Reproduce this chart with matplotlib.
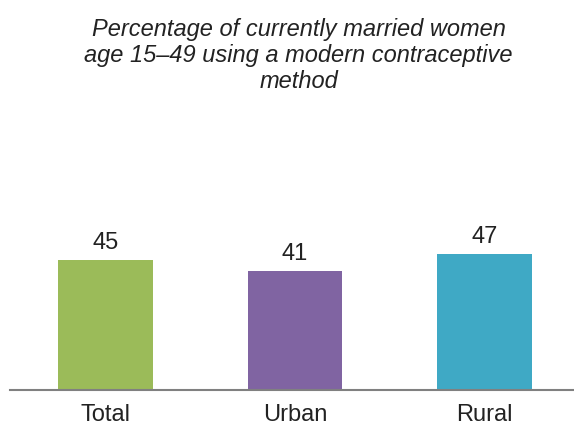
import matplotlib
matplotlib.use("Agg")
import matplotlib.pyplot as plt

categories = ["Total", "Urban", "Rural"]
values = [45, 41, 47]
colors = ["#9BBB59", "#8064A2", "#3FA9C5"]

plt.rcParams['font.family'] = ['Liberation Sans', 'DejaVu Sans']

fig = plt.figure(figsize=(5.74, 4.28), dpi=100)
ax = fig.add_axes([10 / 574, 1 - 390 / 428, 1 - 10 / 574, 290 / 428])

x = range(len(categories))
bars = ax.bar(x, values, width=0.5, color=colors, zorder=2)
for xi, v in zip(x, values):
    ax.text(xi, v + 2, str(v), ha='center', va='bottom', fontsize=17, color='#222222')

ax.set_xlim(-0.504, 2.472)
ax.set_ylim(0, 100)
ax.set_xticks(list(x))
ax.set_xticklabels(categories, fontsize=17, color='#222222')
ax.tick_params(axis='x', length=0, pad=10)
ax.set_yticks([])
for s in ['top', 'right', 'left']:
    ax.spines[s].set_visible(False)
ax.spines['bottom'].set_color('#808080')
ax.spines['bottom'].set_linewidth(1.5)
ax.spines['bottom'].set_zorder(3)

fig.text(298.5 / 574, 1 - 55.5 / 428,
         "Percentage of currently married women\nage 15\u201349 using a modern contraceptive\nmethod",
         ha='center', va='center', fontsize=17, style='italic', color='#222222',
         linespacing=1.17)

fig.savefig("out.png", dpi=100)
